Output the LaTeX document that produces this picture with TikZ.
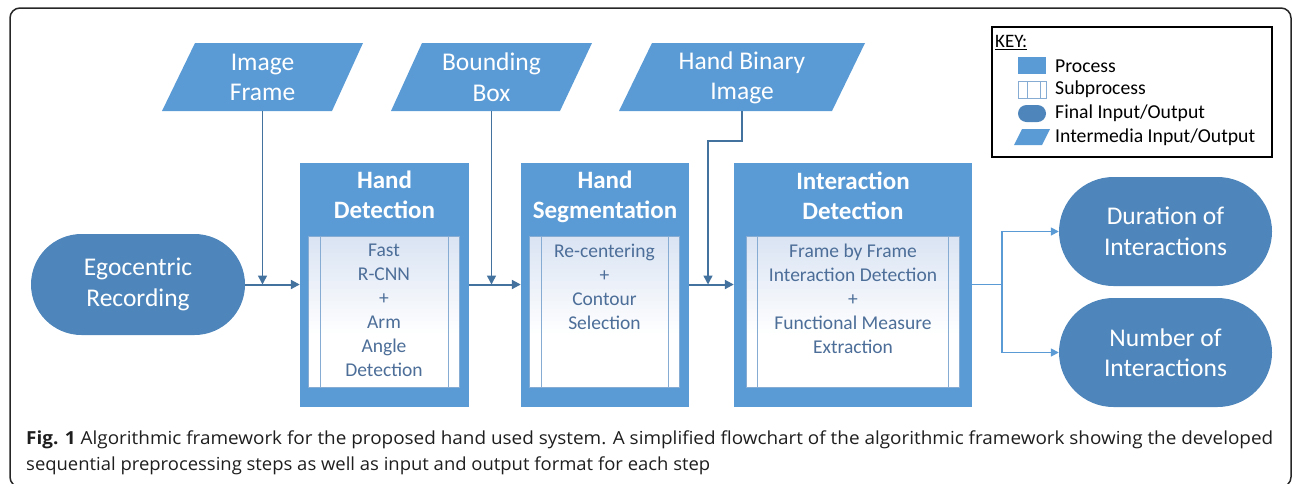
\documentclass[tikz,border=0pt]{standalone}
\usepackage{fontspec}
\setmainfont{Carlito}
\newfontfamily\capfont{Open Sans}
\usetikzlibrary{arrows.meta,shapes.misc,calc}
\definecolor{procblue}{RGB}{91,155,213}
\definecolor{termblue}{RGB}{78,134,187}
\definecolor{connblue}{RGB}{68,114,158}
\definecolor{subline}{RGB}{135,172,212}
\definecolor{subtext}{RGB}{76,110,152}
\definecolor{subtop}{RGB}{218,228,243}
\definecolor{captext}{RGB}{30,30,30}
\tikzset{
  procbox/.style={rectangle, fill=procblue, inner sep=0pt, minimum height=244pt},
  subbox/.style={rectangle, fill=white, inner sep=0pt, minimum height=150pt},
  subsep/.style={draw=subline, line width=1.2pt},
  term/.style={rounded rectangle, fill=termblue, text=white, font=\fontsize{25.5}{30.5}\selectfont, align=center, inner sep=0pt},
  parafill/.style={fill=procblue},
  iotext/.style={text=white, font=\fontsize{25.5}{30.5}\selectfont, align=center, inner sep=0pt, anchor=center},
  ttl/.style={text=white, font=\bfseries\fontsize{25}{30}\selectfont, align=center, inner sep=0pt, anchor=north},
  subtxt/.style={text=subtext, font=\fontsize{19.5}{24.1}\selectfont, align=center, inner sep=0pt, anchor=north},
  conn/.style={draw=connblue, line width=2pt, -{Triangle[length=9pt,width=9pt]}},
  connv/.style={draw=connblue, line width=1.5pt, -{Triangle[length=9pt,width=9pt]}},
  outconn/.style={draw=procblue, line width=1.6pt},
  outarrow/.style={draw=procblue, line width=1.6pt, -{Triangle[length=8pt,width=8pt]}},
  keytxt/.style={font=\fontsize{19.7}{23}\selectfont, anchor=west, inner sep=0pt},
  captxt/.style={anchor=base west, inner sep=0pt, text=captext, font=\capfont\fontsize{18}{22}\selectfont},
}
% gradient, border and two separator lines of a subprocess box
\newcommand\mysubdeco[3]{%
  \foreach \i in {0,...,23}{%
    \pgfmathsetmacro\pct{100-\i*100/24}%
    \fill[subtop!\pct!white] ($(#1.north west)+(0,\i*4)$) rectangle ($(#1.north east)+(0,\i*4+4.6)$);
  }
  \draw[subsep] (#1.north west) rectangle (#1.south east);
  \draw[subsep] ($(#1.north west)+(#2,0)$) -- ($(#1.south west)+(#2,0)$);
  \draw[subsep] ($(#1.north east)+(-#3,0)$) -- ($(#1.south east)+(-#3,0)$);
}
\begin{document}
\begin{tikzpicture}[x=1pt,y=-1pt]
\useasboundingbox (0,0) rectangle (1293,483);
\clip (0,0) rectangle (1293,483);
% outer frame
\draw[line width=1.5pt, rounded corners=10pt, black!85] (10,8) rectangle (1291,487);

% parallelograms (intermediate I/O)
\fill[parafill] (162,111) -- (332,111) -- (363,43) -- (195,43) -- cycle;
\node[iotext] (imgf) at (262.5,77.5) {Image\\Frame};
\coordinate (imgfB) at (262.5,111);

\fill[parafill] (391,111) -- (560,111) -- (592,43) -- (422,43) -- cycle;
\node[iotext] (bbox) at (491.5,77) {Bounding\\Box};
\coordinate (bboxB) at (491.5,111);

\fill[parafill] (619,111) -- (832,111) -- (865,43) -- (652,43) -- cycle;
\node[iotext] (hbin) at (742,78) {Hand Binary\\Image};
\coordinate (hbinB) at (742,111);
\coordinate (hbinK) at (708,141);

% terminals
\node[term, minimum width=214pt, minimum height=101pt] (ego) at (138,284.5) {Egocentric\\Recording};
\node[term, minimum width=213pt, minimum height=109pt] (dur) at (1165.5,231.5) {Duration of\\Interactions};
\node[term, minimum width=213pt, minimum height=109pt] (num) at (1165.5,352.5) {Number of\\Interactions};

% process boxes
\node[procbox, minimum width=169pt] (hd) at (384.5,284.5) {};
\node[ttl] (hdt) at (384.5,171) {Hand\\Detection};
\node[subbox, minimum width=150pt] (hds) at (384,312) {};
\mysubdeco{hds}{12}{11}
\node[subtxt] (hdx) at (384,243.5) {Fast\\R-CNN\\+\\Arm\\Angle\\Detection};

\node[procbox, minimum width=168pt] (hs) at (605,284.5) {};
\node[ttl] (hst) at (605,171) {Hand\\Segmentation};
\node[subbox, minimum width=149pt] (hss) at (604.5,312) {};
\mysubdeco{hss}{12}{11}
\node[subtxt] (hsx) at (604.5,243.5) {Re-centering\\+\\Contour\\Selection};

\node[procbox, minimum width=238pt] (id) at (853,284.5) {};
\node[ttl] (idt) at (853,172) {Interaction\\Detection};
\node[subbox, minimum width=212pt] (ids) at (853,312) {};
\mysubdeco{ids}{11}{11}
\node[subtxt] (idx) at (853,243.5) {Frame by Frame\\Interaction Detection\\+\\Functional Measure\\Extraction};

% connectors
\draw[conn] (ego.east) -- (hd.west);
\draw[conn] (hd.east) -- (hs.west);
\draw[conn] (hs.east) -- (id.west);
\draw[connv] (imgfB) -- (imgfB |- hd.west);
\draw[connv] (bboxB) -- (bboxB |- hs.west);
\draw[connv] (hbinB) |- (hbinK) -- (hbinK |- id.west);
\coordinate (jn) at (1002,284.5);
\draw[outconn] (id.east) -- (jn);
\draw[outarrow] (jn) |- (dur.west);
\draw[outarrow] (jn) |- (num.west);

% key
\node[draw=black, line width=2pt, minimum width=280pt, minimum height=130pt, inner sep=0pt] (key) at (1132,92) {};
\node[font=\fontsize{19}{22}\selectfont, anchor=west, inner sep=0pt] (keyt) at (995,42.5) {\underline{KEY:}};
\fill[procblue] (1018,57) rectangle (1046,74);
\node[keytxt] (k1) at (1055,66) {Process};
\draw[subline, line width=1pt, fill=white] (1018,81) rectangle (1046,98);
\draw[subline, line width=1pt] (1027,81) -- (1027,98);
\draw[subline, line width=1pt] (1040,81) -- (1040,98);
\node[keytxt] (k2) at (1055,89) {Subprocess};
\fill[termblue, rounded corners=8.5pt] (1018,105) rectangle (1046,122);
\node[keytxt] (k3) at (1055,113) {Final Input/Output};
\fill[procblue] (1014,145) -- (1042,145) -- (1050,129) -- (1022,129) -- cycle;
\node[keytxt] (k4) at (1055,137) {Intermedia Input/Output};

% caption
\node[captxt] (cap1) at (26,444) {\resizebox{1247pt}{\height}{\textbf{Fig. 1} Algorithmic framework for the proposed hand used system. A simplified flowchart of the algorithmic framework showing the developed}};
\node[captxt] (cap2) at (26,470) {\resizebox{684pt}{\height}{sequential preprocessing steps as well as input and output format for each step}};
\end{tikzpicture}
\end{document}
